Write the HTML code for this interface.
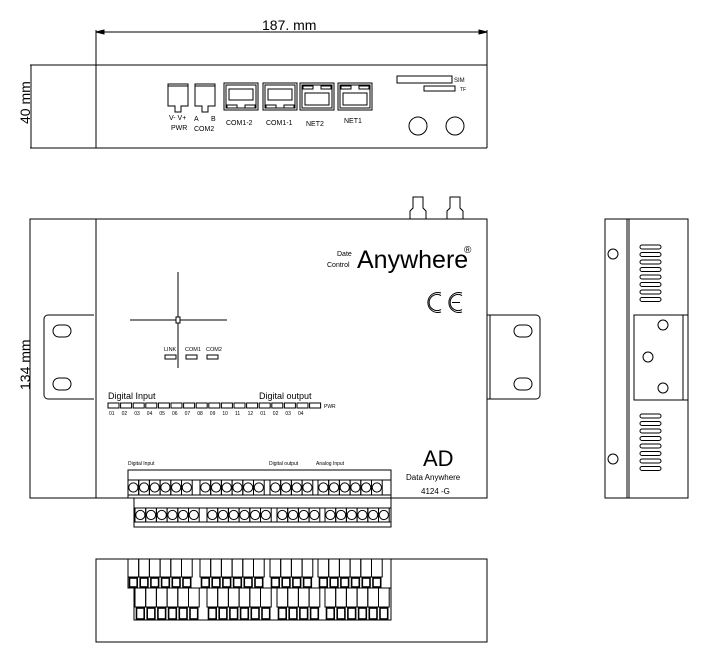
<!DOCTYPE html>
<html><head><meta charset="utf-8"><style>
html,body{margin:0;padding:0;background:#fff}
svg{display:block}
text{font-family:"Liberation Sans",sans-serif;fill:#000}
</style></head><body>
<svg id="s" width="717" height="658" viewBox="0 0 717 658" fill="none" stroke="#000" stroke-width="1">
<!-- top view -->
<line x1="96" y1="30" x2="96" y2="148"/>
<line x1="487" y1="30" x2="487" y2="148"/>
<line x1="96" y1="32" x2="487" y2="32"/>
<path d="M96 32 l8 -2 v4 z M487 32 l-8 -2 v4 z" fill="#000"/>
<text x="262" y="30" font-size="14" stroke="none">187. mm</text>
<line x1="30" y1="65" x2="487" y2="65"/>
<line x1="30" y1="148" x2="487" y2="148"/>
<line x1="31" y1="65" x2="31" y2="148"/>
<text transform="translate(30,124) rotate(-90)" font-size="14" stroke="none">40  mm</text>
<path d="M168 84h20v22h-7v6h-6v-6h-7z"/><line x1="168" y1="86" x2="188" y2="86"/>
<path d="M195 84h20v22h-7v6h-6v-6h-7z"/><line x1="195" y1="86" x2="215" y2="86"/>
<text x="169" y="120" font-size="7" stroke="none">V-  V+</text>
<text x="194" y="121" font-size="7" stroke="none">A</text>
<text x="211" y="121" font-size="7" stroke="none">B</text>
<text x="171" y="130" font-size="7" stroke="none">PWR</text>
<text x="194" y="131" font-size="7" stroke="none">COM2</text>
<g id="rj"></g>
<text x="226" y="125" font-size="7" stroke="none">COM1-2</text>
<text x="266" y="125" font-size="7" stroke="none">COM1-1</text>
<text x="306" y="126" font-size="7" stroke="none">NET2</text>
<text x="344" y="123" font-size="7" stroke="none">NET1</text>
<rect x="397" y="76" width="55" height="7"/>
<text x="454" y="82" font-size="6" stroke="none">SIM</text>
<rect x="424" y="86" width="31" height="5"/>
<text x="460" y="91" font-size="5" stroke="none">TF</text>
<circle cx="418" cy="126" r="9"/>
<circle cx="455" cy="126" r="9"/>
<!-- main view -->
<rect x="30" y="219" width="457" height="279"/>
<line x1="96" y1="219" x2="96" y2="498"/>
<path d="M94 315H48a4 4 0 0 0 -4 4v76a4 4 0 0 0 4 4h46"/>
<rect x="53" y="325" width="18" height="12" rx="6"/>
<rect x="53" y="378" width="18" height="12" rx="6"/>
<path d="M487 315h49a4 4 0 0 1 4 4v76a4 4 0 0 1 -4 4h-49"/>
<line x1="490" y1="315" x2="490" y2="399"/>
<rect x="514" y="325" width="18" height="12" rx="6"/>
<rect x="514" y="378" width="18" height="12" rx="6"/>
<text transform="translate(30,390) rotate(-90)" font-size="14" stroke="none">134  mm</text>
<path d="M410 219v-8l3-3v-11h10v11l3 3v8"/>
<path d="M447 219v-8l3-3v-11h10v11l3 3v8"/>
<line x1="130" y1="320" x2="227" y2="320"/>
<line x1="178" y1="272" x2="178" y2="368"/>
<rect x="176" y="317" width="4" height="6" fill="#fff"/>
<text x="164" y="351" font-size="5.5" stroke="none">LINK</text>
<text x="185" y="351" font-size="5.5" stroke="none">COM1</text>
<text x="206" y="351" font-size="5.5" stroke="none">COM2</text>
<rect x="165" y="355" width="11" height="4"/>
<rect x="186" y="355" width="11" height="4"/>
<rect x="207" y="355" width="11" height="4"/>
<text x="108" y="399" font-size="9" stroke="none">Digital Input</text>
<text x="259" y="399" font-size="9" stroke="none">Digital output</text>
<text x="324" y="408" font-size="5" stroke="none">PWR</text>
<g id="leds"></g>
<text x="337" y="256" font-size="7" stroke="none">Date</text>
<text x="327" y="267" font-size="7" stroke="none">Control</text>
<text x="357" y="268" font-size="25" stroke="none">Anywhere</text>
<text x="464" y="253" font-size="10" stroke="none">®</text>
<!-- CE mark -->
<path d="M441 293a10 10 0 1 0 0 19" stroke-width="1"/>
<path d="M441 295.5a8 8 0 1 0 0 14" stroke-width="1"/>
<path d="M462 293a10 10 0 1 0 0 19" stroke-width="1"/>
<path d="M462 295.5a8 8 0 1 0 0 14" stroke-width="1"/>
<line x1="452" y1="302.5" x2="460" y2="302.5"/>
<text x="423" y="466" font-size="22" stroke="none">AD</text>
<text x="406" y="480" font-size="8" stroke="none">Data Anywhere</text>
<text x="421" y="494" font-size="8" stroke="none">4124 -G</text>
<text x="128" y="465" font-size="5" stroke="none">Digital Input</text>
<text x="269" y="465" font-size="5" stroke="none">Digital output</text>
<text x="316" y="465" font-size="5" stroke="none">Analog Input</text>
<rect x="128" y="470" width="263" height="28"/>
<line x1="128" y1="480" x2="391" y2="480"/>
<line x1="128" y1="495" x2="391" y2="495"/>
<rect x="134" y="498" width="257" height="29"/>
<line x1="134" y1="508" x2="391" y2="508"/>
<line x1="134" y1="522" x2="391" y2="522"/>
<g id="term"></g>
<!-- side view -->
<rect x="605" y="219" width="83" height="279"/>
<line x1="627" y1="219" x2="627" y2="498"/>
<line x1="629" y1="219" x2="629" y2="498"/>
<circle cx="613" cy="254" r="5"/>
<circle cx="613" cy="459" r="5"/>
<rect x="634" y="315" width="54" height="85"/>
<line x1="683" y1="315" x2="683" y2="400"/>
<circle cx="663" cy="325" r="5"/>
<circle cx="648" cy="357" r="5"/>
<circle cx="663" cy="388" r="5"/>
<g id="vents"></g>
<!-- bottom view -->
<rect x="96" y="559" width="391" height="83"/>
<g id="bot"></g>
</svg>
<script>
var NS="http://www.w3.org/2000/svg";
function el(p,t,a){var e=document.createElementNS(NS,t);for(var k in a)e.setAttribute(k,a[k]);document.getElementById(p).appendChild(e);return e;}
[[224,0],[263,0],[300,1],[338,1]].forEach(function(p){var x=p[0];
el("rj","rect",{x:x,y:83,width:34,height:27});el("rj","rect",{x:x+2,y:85,width:30,height:23});
if(!p[1]){el("rj","rect",{x:x+5,y:89,width:24,height:11});el("rj","path",{d:"M"+(x+3)+" 105h10v3h-10zM"+(x+21)+" 105h10v3h-10z"});}
else{el("rj","path",{d:"M"+(x+3)+" 86h10v3h-10zM"+(x+21)+" 86h10v3h-10z"});el("rj","rect",{x:x+5,y:93,width:24,height:12});}
});
var nums=["01","02","03","04","05","06","07","08","09","10","11","12","01","02","03","04"];
for(var i=0;i<17;i++){var x=108+i*12.6;el("leds","rect",{x:x,y:403,width:11,height:5});
if(i<16){var t=el("leds","text",{x:x+1,y:415,"font-size":"5",stroke:"none"});t.textContent=nums[i];}}
var up=[[128,6],[200,6],[270,4],[318,6]],lo=[[135,6],[207,6],[277,4],[325,6]];
function row(g,y1,y2,cy){g.forEach(function(q){for(var j=0;j<q[1];j++){var x=q[0]+j*10.7;
el("term","rect",{x:x,y:y1,width:10.7,height:y2-y1});el("term","circle",{cx:x+5.35,cy:cy,r:4.6});}});}
row(up,480,495,487.5);row(lo,508,522,515);
function brow(g,yt,ym,yb){g.forEach(function(q){for(var j=0;j<q[1];j++){var x=q[0]+j*10.7;
el("bot","rect",{x:x,y:yt,width:10.7,height:ym-yt});el("bot","rect",{x:x+1.5,y:ym+1,width:7.7,height:yb-ym-2,"stroke-width":"1.6"});}});}
el("bot","rect",{x:128,y:559,width:263,height:29});el("bot","rect",{x:134,y:588,width:257,height:32});
brow(up,559,577,588);brow(lo,588,607,620);
for(var k=0;k<8;k++){el("vents","rect",{x:640,y:245+k*7.5,width:21,height:4,rx:2});el("vents","rect",{x:640,y:414+k*7.5,width:21,height:4,rx:2});}
</script>
</body></html>
